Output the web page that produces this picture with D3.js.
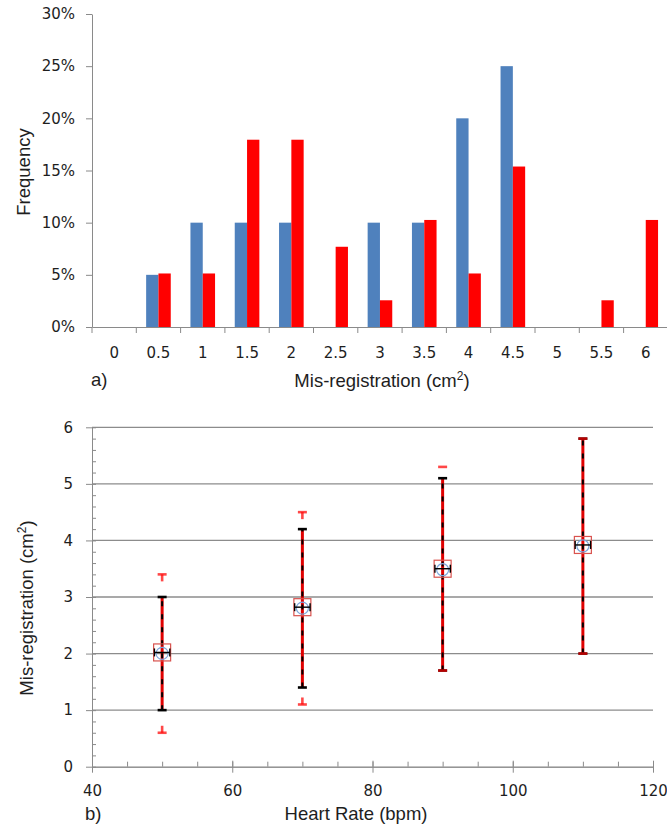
<!DOCTYPE html>
<html>
<head>
<meta charset="utf-8">
<script src="https://cdn.jsdelivr.net/npm/d3@7"></script>
<style>
  body { margin: 0; background: #fff; }
  svg { display: block; }
  .tick text { font-family: "DejaVu Sans", Verdana, sans-serif; font-size: 15px; fill: #1e1e1e; }
  .title { font-family: "Liberation Sans", Arial, sans-serif; font-size: 18.5px; fill: #1e1e1e; }
</style>
</head>
<body>
<svg width="667" height="828"></svg>
<script>
// ---- panel a) histogram data ----
var bins = ["0", "0.5", "1", "1.5", "2", "2.5", "3", "3.5", "4", "4.5", "5", "5.5", "6"];
var blueFreq = [0, 0.05, 0.10, 0.10, 0.10, 0, 0.10, 0.10, 0.20, 0.25, 0, 0, 0];
var redFreq = [0, 0.0513, 0.0513, 0.1795, 0.1795, 0.0769, 0.0256, 0.1026, 0.0513, 0.1538, 0, 0.0256, 0.1026];
var freqTicks = [0, 0.05, 0.10, 0.15, 0.20, 0.25, 0.30];

// ---- panel b) mis-registration vs heart rate ----
var heartRate = [50, 70, 90, 110];
var meanMis = [2.02, 2.82, 3.50, 3.92];
var blackLow = [1.0, 1.4, 1.7, 2.0];
var blackHigh = [3.0, 4.2, 5.1, 5.8];
var redLow = [0.6, 1.1, 1.7, 2.0];
var redHigh = [3.4, 4.5, 5.3, 5.8];
var hrErr = [1.1, 1.1, 1.1, 1.1];
var hrTicks = [40, 60, 80, 100, 120];
var misTicks = [0, 1, 2, 3, 4, 5, 6];

var svg = d3.select("svg");
var axisGray = "#8a8a8a";

// =================== a) ===================
var gA = svg.append("g");
var xA = d3.scaleBand().domain(bins).range([92, 92 + 13 * 44.3]);
var inner = d3.scaleBand().domain(["blue", "red"]).range([0, xA.bandwidth()]).paddingOuter(0.8);
var yA = d3.scaleLinear().domain([0, 0.30]).range([327, 14]);

var rows = bins.map(function(b, i) { return {bin: b, blue: blueFreq[i], red: redFreq[i]}; });

gA.selectAll(".bar-blue").data(rows).enter().append("rect")
    .attr("x", function(d) { return xA(d.bin) + inner("blue"); })
    .attr("width", inner.bandwidth())
    .attr("y", function(d) { return yA(d.blue); })
    .attr("height", function(d) { return yA(0) - yA(d.blue); })
    .attr("fill", "#4f81bd");

gA.selectAll(".bar-red").data(rows).enter().append("rect")
    .attr("x", function(d) { return xA(d.bin) + inner("red"); })
    .attr("width", inner.bandwidth())
    .attr("y", function(d) { return yA(d.red); })
    .attr("height", function(d) { return yA(0) - yA(d.red); })
    .attr("fill", "#ff0000");

// y axis
var yAxA = gA.append("g").attr("transform", "translate(92,0)")
    .call(d3.axisLeft(yA).tickValues(freqTicks).tickFormat(d3.format(".0%"))
      .tickSizeInner(6).tickSizeOuter(0).tickPadding(11));
yAxA.selectAll("line, path").attr("stroke", axisGray);

// x axis: labels at band centres, ticks at band boundaries
var xAxA = gA.append("g").attr("transform", "translate(0,327)")
    .call(d3.axisBottom(xA).tickSize(0).tickPadding(20));
xAxA.select(".domain").attr("stroke", axisGray);
gA.selectAll(".bnd").data(bins).enter().append("line")
    .attr("x1", function(d) { return xA(d); })
    .attr("x2", function(d) { return xA(d); })
    .attr("y1", 327).attr("y2", 333)
    .attr("stroke", axisGray);

gA.append("text").attr("class", "title")
    .attr("transform", "translate(30,172) rotate(-90)")
    .attr("text-anchor", "middle")
    .text("Frequency");
gA.append("text").attr("class", "title").attr("x", 91).attr("y", 386).text("a)");
var tA = gA.append("text").attr("class", "title").attr("x", 382).attr("y", 387)
    .attr("text-anchor", "middle");
tA.append("tspan").text("Mis-registration (cm");
tA.append("tspan").attr("font-size", "12px").attr("dy", -7).text("2");
tA.append("tspan").attr("dy", 7).text(")");

// =================== b) ===================
var gB = svg.append("g");
var xB = d3.scaleLinear().domain([40, 120]).range([92, 653]);
var yB = d3.scaleLinear().domain([0, 6]).range([766.7, 427.3]);

// grid lines
gB.selectAll(".grid").data(misTicks.slice(1)).enter().append("line")
    .attr("x1", xB(40)).attr("x2", xB(120))
    .attr("y1", function(d) { return yB(d); })
    .attr("y2", function(d) { return yB(d); })
    .attr("stroke", "#8c8c8c").attr("stroke-width", 1.3);

// minor ticks
var yMinor = gB.append("g").attr("transform", "translate(92,0)")
    .call(d3.axisRight(yB).ticks(30).tickSizeInner(4).tickSizeOuter(0).tickFormat(""));
yMinor.selectAll("line, path").attr("stroke", axisGray);
var xMinor = gB.append("g").attr("transform", "translate(0,766.7)")
    .call(d3.axisTop(xB).ticks(16).tickSizeInner(5).tickSizeOuter(0).tickFormat(""));
xMinor.selectAll("line, path").attr("stroke", axisGray);

var yAxB = gB.append("g").attr("transform", "translate(92,0)")
    .call(d3.axisLeft(yB).tickValues(misTicks).tickFormat(d3.format("d"))
      .tickSizeInner(6).tickSizeOuter(0).tickPadding(13));
yAxB.selectAll("line, path").attr("stroke", axisGray);
var xAxB = gB.append("g").attr("transform", "translate(0,766.7)")
    .call(d3.axisBottom(xB).tickValues(hrTicks).tickFormat(d3.format("d"))
      .tickSizeInner(6).tickSizeOuter(0).tickPadding(13));
xAxB.selectAll("line, path").attr("stroke", axisGray);
xAxB.selectAll(".tick line").attr("y1", -6);

var pts = heartRate.map(function(h, i) {
  return {hr: h, m: meanMis[i], bl: blackLow[i], bh: blackHigh[i], rl: redLow[i], rh: redHigh[i], e: hrErr[i]};
});

var eb = gB.selectAll(".pt").data(pts).enter().append("g");

// red solid bar where both ranges overlap
eb.append("line")
    .attr("x1", function(d) { return xB(d.hr); }).attr("x2", function(d) { return xB(d.hr); })
    .attr("y1", function(d) { return yB(Math.max(d.rl, d.bl)); })
    .attr("y2", function(d) { return yB(Math.min(d.rh, d.bh)); })
    .attr("stroke", "#e00000").attr("stroke-width", 3);
// black dashed bar
eb.append("line")
    .attr("x1", function(d) { return xB(d.hr); }).attr("x2", function(d) { return xB(d.hr); })
    .attr("y1", function(d) { return yB(d.bl); })
    .attr("y2", function(d) { return yB(d.bh); })
    .attr("stroke", "#000").attr("stroke-width", 2).attr("stroke-dasharray", "5,8");
// black caps
["bl", "bh"].forEach(function(k) {
  eb.append("line")
      .attr("x1", function(d) { return xB(d.hr) - 4.5; }).attr("x2", function(d) { return xB(d.hr) + 4.5; })
      .attr("y1", function(d) { return yB(d[k]); }).attr("y2", function(d) { return yB(d[k]); })
      .attr("stroke", "#000").attr("stroke-width", 2.6);
});
// red caps with short stubs
["rl", "rh"].forEach(function(k) {
  eb.append("line")
      .attr("x1", function(d) { return xB(d.hr) - 4.5; }).attr("x2", function(d) { return xB(d.hr) + 4.5; })
      .attr("y1", function(d) { return yB(d[k]); }).attr("y2", function(d) { return yB(d[k]); })
      .attr("stroke", "#ff0000").attr("stroke-opacity", 0.72).attr("stroke-width", 2.6);
  eb.filter(function(d) { return k === "rl" ? d.rl < d.bl - 0.25 : d.rh > d.bh + 0.25; })
    .append("line")
      .attr("x1", function(d) { return xB(d.hr); }).attr("x2", function(d) { return xB(d.hr); })
      .attr("y1", function(d) { return yB(d[k]); })
      .attr("y2", function(d) { return yB(d[k]) + (k === "rl" ? -7 : 7); })
      .attr("stroke", "#ff0000").attr("stroke-opacity", 0.72).attr("stroke-width", 2.6);
});

// markers
eb.append("rect")
    .attr("x", function(d) { return xB(d.hr) - 8.5; })
    .attr("y", function(d) { return yB(d.m) - 8.5; })
    .attr("width", 17).attr("height", 17)
    .attr("fill", "none").attr("stroke", "#d9534f").attr("stroke-width", 1.2);
eb.append("circle")
    .attr("cx", function(d) { return xB(d.hr); })
    .attr("cy", function(d) { return yB(d.m) + 1; })
    .attr("r", 6)
    .attr("fill", "none").attr("stroke", "#7ea6dc").attr("stroke-width", 1.2);
// horizontal error bars
eb.append("line")
    .attr("x1", function(d) { return xB(d.hr - d.e); }).attr("x2", function(d) { return xB(d.hr + d.e); })
    .attr("y1", function(d) { return yB(d.m); }).attr("y2", function(d) { return yB(d.m); })
    .attr("stroke", "#000").attr("stroke-width", 1.4);
[-1, 1].forEach(function(s) {
  eb.append("line")
      .attr("x1", function(d) { return xB(d.hr + s * d.e); }).attr("x2", function(d) { return xB(d.hr + s * d.e); })
      .attr("y1", function(d) { return yB(d.m) - 4; }).attr("y2", function(d) { return yB(d.m) + 4; })
      .attr("stroke", "#000").attr("stroke-width", 1.4);
});

gB.append("text").attr("class", "title")
    .attr("transform", "translate(33,608) rotate(-90)")
    .attr("text-anchor", "middle")
    .call(function(t) {
      t.append("tspan").text("Mis-registration (cm");
      t.append("tspan").attr("font-size", "12px").attr("dy", -7).text("2");
      t.append("tspan").attr("dy", 7).text(")");
    });
gB.append("text").attr("class", "title").attr("x", 85).attr("y", 820).text("b)");
gB.append("text").attr("class", "title").attr("x", 356).attr("y", 820)
    .attr("text-anchor", "middle").text("Heart Rate (bpm)");
</script>
</body>
</html>
